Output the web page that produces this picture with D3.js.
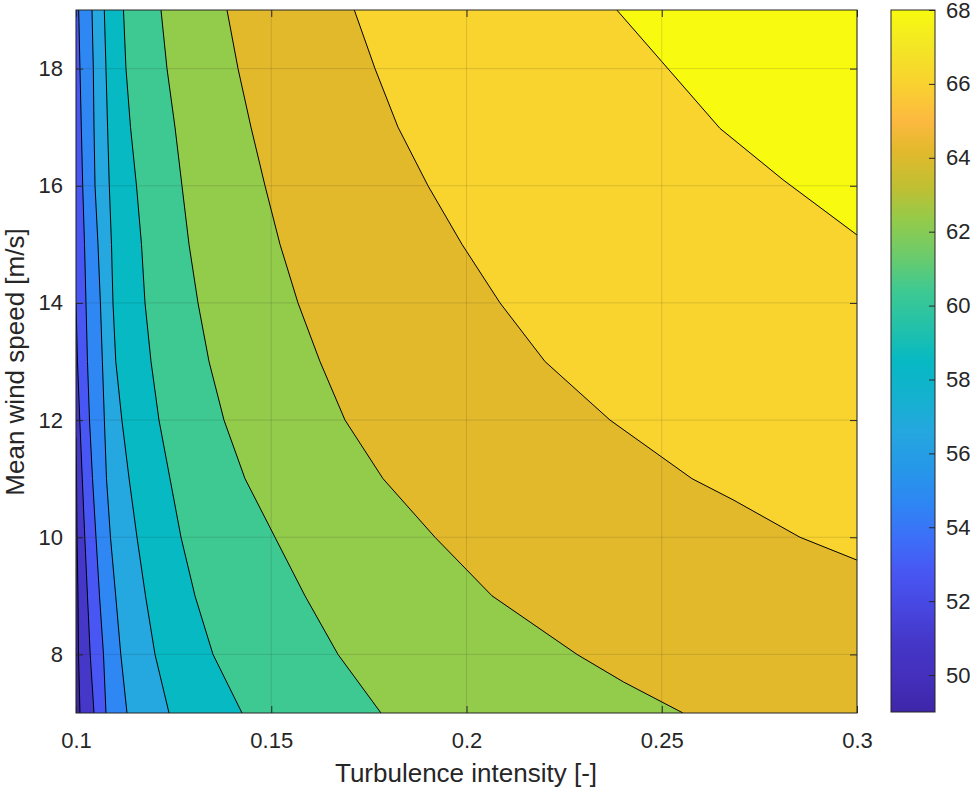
<!DOCTYPE html>
<html>
<head>
<meta charset="utf-8">
<script src="https://cdn.jsdelivr.net/npm/d3@7/dist/d3.min.js"></script>
<style>
body { margin: 0; background: #fff; }
text { font-family: "Liberation Sans", Arial, Helvetica, sans-serif; fill: #262626; }
</style>
</head>
<body>
<svg width="974" height="791"></svg>
<script>
// contour levels (value used to colour the band above each line)
var levels = [49, 50.9, 52.8, 54.7, 56.6, 58.5, 60.4, 62.3, 64.2, 66.1, 68];

// contour lines: [turbulence intensity, mean wind speed]
var line1 = [[0.1, 11.7], [0.10013, 11], [0.10026, 10], [0.10051, 9], [0.10064, 8], [0.10102, 7]];
var line2 = [[0.1, 14.0], [0.10038, 13], [0.10097, 12], [0.10161, 11], [0.10225, 10], [0.10294, 9], [0.10364, 8], [0.10461, 7]];
var line3 = [[0.10069, 19], [0.10102, 18], [0.10136, 17], [0.10172, 16], [0.10218, 15], [0.10256, 14], [0.10294, 13], [0.10346, 12], [0.10423, 11], [0.10512, 10], [0.10602, 9], [0.10704, 8], [0.10768, 7]];
var line4 = [[0.10410, 19], [0.10443, 18], [0.10461, 17], [0.10487, 16], [0.10563, 15], [0.10625, 14], [0.10676, 13], [0.10727, 12], [0.10781, 11], [0.10883, 10], [0.11017, 9], [0.11147, 8], [0.11306, 7]];
var line5 = [[0.10725, 19], [0.10768, 18], [0.10809, 17], [0.10853, 16], [0.10909, 15], [0.10947, 14], [0.11019, 13], [0.11175, 12], [0.11360, 11], [0.11562, 10], [0.11780, 9], [0.12023, 8], [0.12382, 7]];
var line6 = [[0.11216, 19], [0.11280, 18], [0.11396, 17], [0.11549, 16], [0.11677, 15], [0.11767, 14], [0.11921, 13], [0.12125, 12], [0.12407, 11], [0.12689, 10], [0.13047, 9], [0.13508, 8], [0.14251, 7]];
var line7 = [[0.12177, 19], [0.12330, 18], [0.12535, 17], [0.12714, 16], [0.12894, 15], [0.13124, 14], [0.13406, 13], [0.13790, 12], [0.14328, 11], [0.15096, 10], [0.15864, 9], [0.16709, 8], [0.17810, 7]];
var line8 = [[0.13867, 19], [0.14149, 18], [0.14481, 17], [0.14840, 16], [0.15224, 15], [0.15685, 14], [0.16248, 13], [0.16889, 12], [0.17862, 11], [0.19193, 10], [0.20653, 9], [0.22830, 8], [0.24020, 7.53], [0.25544, 7]];
var line9 = [[0.17127, 19], [0.17657, 18], [0.18246, 17], [0.19014, 16], [0.19885, 15], [0.20858, 14], [0.22010, 13], [0.23675, 12], [0.25775, 11], [0.26825, 10.64], [0.28540, 10], [0.3, 9.61]];
var line10 = [[0.2385, 19], [0.25, 18.12], [0.2649, 16.98], [0.2811, 16.10], [0.3, 15.16]];
var contourLines = [line1, line2, line3, line4, line5, line6, line7, line8, line9, line10];

var xTicks = [0.1, 0.15, 0.2, 0.25, 0.3];
var yTicks = [8, 10, 12, 14, 16, 18];
var cbTicks = [50, 52, 54, 56, 58, 60, 62, 64, 66, 68];

// parula-like colormap stops
var cmapVals = [49, 50, 50.9, 51.8, 52.8, 53.7, 54.7, 55.6, 56.6, 57.5, 58.5, 59.4, 60.4, 61.3, 62.3, 63.2, 64.2, 65, 66.1, 67, 68];
var cmapCols = ["#3e26a8", "#4430bd", "#4537c8", "#4746e0", "#4857f3", "#3c6ff8", "#2e87f3", "#2598e8", "#25a7df", "#14b1cf",
  "#06b9c3", "#22c1aa", "#3ec992", "#6acb6d", "#93cb4b", "#c0bf33", "#e3b92c", "#fcb940", "#f9d42e", "#f3e625", "#f8fa0f"];

var svg = d3.select("svg");
var xMin = 0.1, xMax = 0.3, yMin = 7, yMax = 19;
var x = d3.scaleLinear().domain([xMin, xMax]).range([76, 857]);
var y = d3.scaleLinear().domain([yMin, yMax]).range([713, 10]);
var cmap = d3.scaleLinear().domain(cmapVals).range(cmapCols).clamp(true);

svg.append("defs").append("clipPath").attr("id", "plotclip")
  .append("rect").attr("x", 76).attr("y", 10).attr("width", 781).attr("height", 703);

var plot = svg.append("g").attr("clip-path", "url(#plotclip)");

// lowest band fills the whole area
plot.append("rect").attr("x", 76).attr("y", 10).attr("width", 781).attr("height", 703)
  .attr("fill", cmap(levels[0]));

var line = d3.line().x(function(d) { return x(d[0]); }).y(function(d) { return y(d[1]); });

function region(pts) {
  var poly = pts.slice();
  var first = pts[0], last = pts[pts.length - 1];
  if (last[1] === yMin) { poly.push([xMax, yMin]); poly.push([xMax, yMax]); }
  else if (last[0] === xMax) { poly.push([xMax, yMax]); }
  if (first[0] === xMin) poly.push([xMin, yMax]);
  return poly;
}

contourLines.forEach(function(pts, i) {
  plot.append("path").attr("d", line(region(pts)) + "Z")
    .attr("fill", cmap(levels[i + 1])).attr("stroke", "none");
});
contourLines.forEach(function(pts) {
  plot.append("path").attr("d", line(pts))
    .attr("fill", "none").attr("stroke", "#000").attr("stroke-width", 1);
});

// grid
var grid = svg.append("g").attr("stroke", "#262626").attr("stroke-opacity", 0.15).attr("stroke-width", 1);
xTicks.forEach(function(t) {
  grid.append("line").attr("x1", x(t)).attr("x2", x(t)).attr("y1", 10).attr("y2", 713);
});
yTicks.forEach(function(t) {
  grid.append("line").attr("x1", 76).attr("x2", 857).attr("y1", y(t)).attr("y2", y(t));
});

// axes with inward ticks
function styleAxis(g) {
  g.select(".domain").remove();
  g.selectAll("line").attr("stroke", "#262626");
  g.selectAll("text").attr("fill", "#262626").style("font-size", "22px")
    .attr("font-family", "Liberation Sans, Arial, sans-serif");
}
svg.append("g").attr("transform", "translate(0,713)")
  .call(d3.axisBottom(x).tickValues(xTicks).tickFormat(function(d) { return d; }).tickSize(-7).tickPadding(19))
  .call(styleAxis);
svg.append("g").attr("transform", "translate(0,10)")
  .call(d3.axisTop(x).tickValues(xTicks).tickFormat("").tickSize(-7))
  .call(styleAxis);
svg.append("g").attr("transform", "translate(76,0)")
  .call(d3.axisLeft(y).tickValues(yTicks).tickFormat(function(d) { return d; }).tickSize(-7).tickPadding(13))
  .call(styleAxis);
svg.append("g").attr("transform", "translate(857,0)")
  .call(d3.axisRight(y).tickValues(yTicks).tickFormat("").tickSize(-7))
  .call(styleAxis);

svg.append("rect").attr("x", 76).attr("y", 10).attr("width", 781).attr("height", 703)
  .attr("fill", "none").attr("stroke", "#262626").attr("stroke-width", 1);

svg.append("text").attr("x", 466).attr("y", 782).attr("text-anchor", "middle")
  .style("font-size", "26px").text("Turbulence intensity [-]");
svg.append("text").attr("transform", "translate(24,362) rotate(-90)").attr("text-anchor", "middle")
  .style("font-size", "26px").text("Mean wind speed [m/s]");

// colorbar
var cy = d3.scaleLinear().domain([49, 68]).range([712, 10]);
var grad = svg.select("defs").append("linearGradient").attr("id", "cbgrad")
  .attr("x1", 0).attr("y1", 1).attr("x2", 0).attr("y2", 0);
cmapVals.forEach(function(v, i) {
  grad.append("stop").attr("offset", (v - 49) / 19).attr("stop-color", cmapCols[i]);
});
svg.append("rect").attr("x", 891).attr("y", 10).attr("width", 44).attr("height", 702)
  .attr("fill", "url(#cbgrad)").attr("stroke", "#262626").attr("stroke-width", 1);
svg.append("g").attr("transform", "translate(935,0)")
  .call(d3.axisRight(cy).tickValues(cbTicks).tickSize(-6).tickPadding(11))
  .call(styleAxis);
</script>
</body>
</html>
